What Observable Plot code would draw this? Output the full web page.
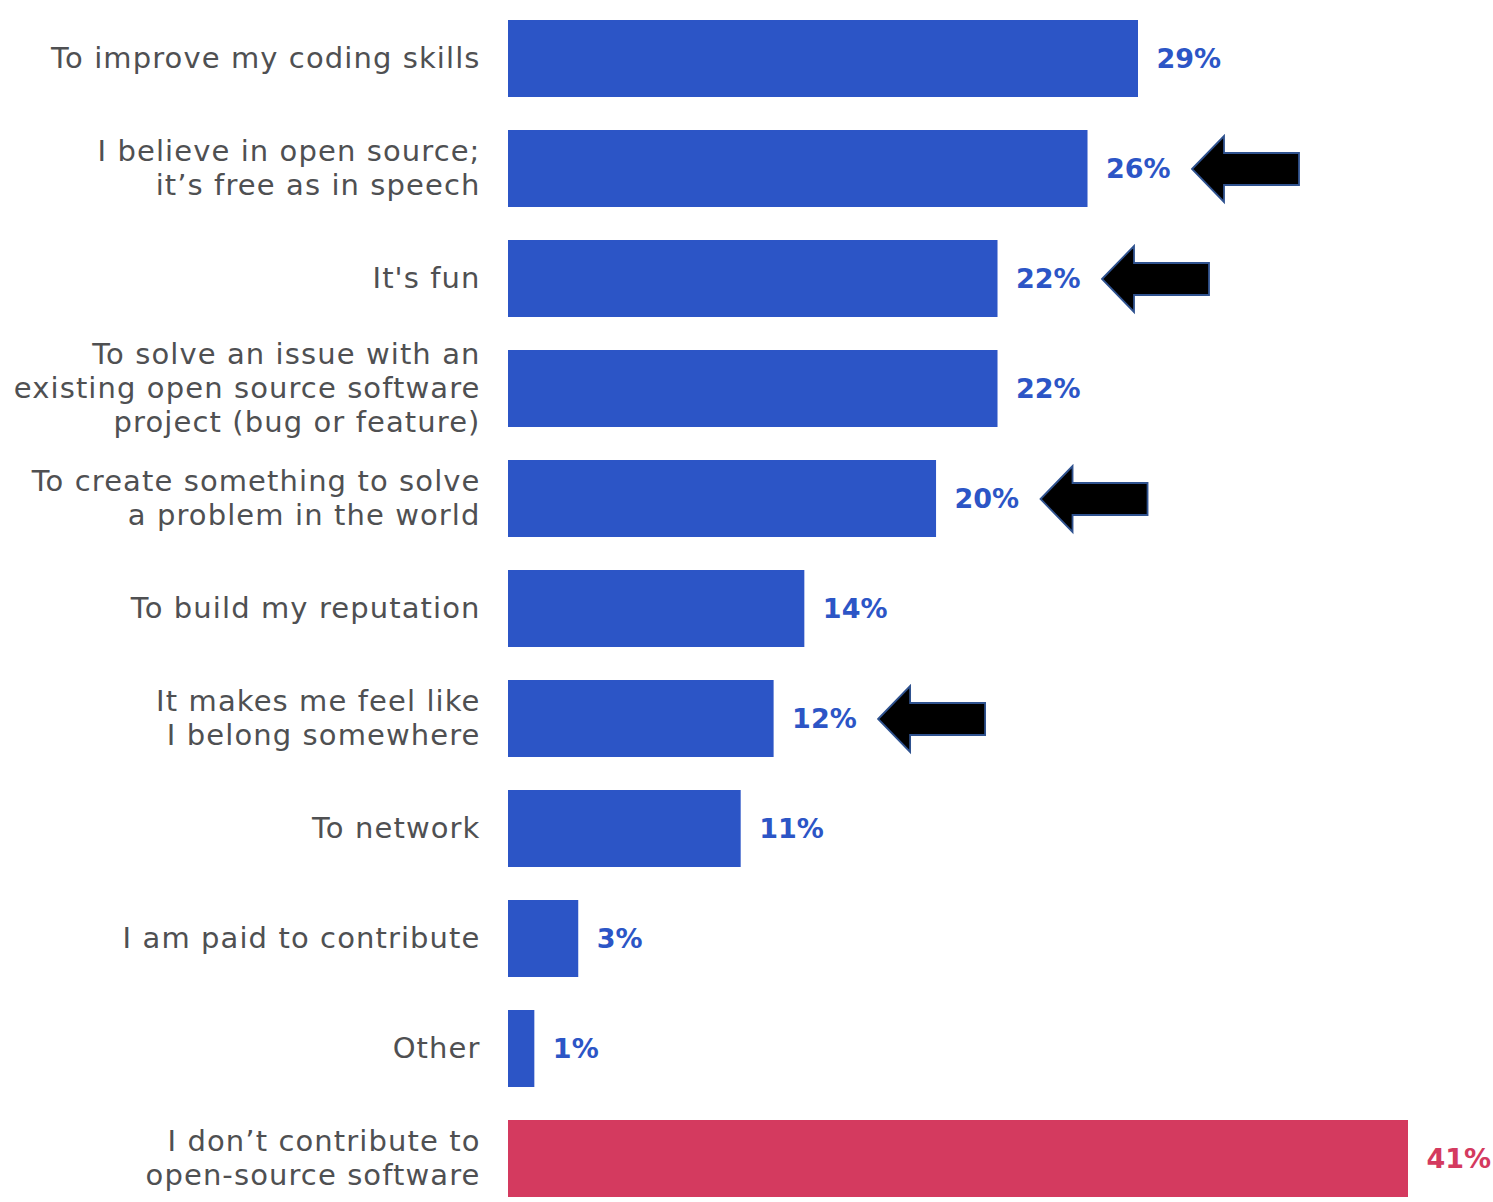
<!DOCTYPE html>
<html>
<head>
<meta charset="utf-8">
<script src="https://cdn.jsdelivr.net/npm/d3@7"></script>
<script src="https://cdn.jsdelivr.net/npm/@observablehq/plot@0.6"></script>
<style>
  html, body { margin: 0; padding: 0; background: #fff; }
  #chart svg { display: block; }
  #chart g[aria-label="y-axis tick label"] text { letter-spacing: 1.1px; }
</style>
</head>
<body>
<div id="chart"></div>
<script>
const categories = [
  "To improve my coding skills",
  "I believe in open source;\nit’s free as in speech",
  "It's fun",
  "To solve an issue with an\nexisting open source software\nproject (bug or feature)",
  "To create something to solve\na problem in the world",
  "To build my reputation",
  "It makes me feel like\nI belong somewhere",
  "To network",
  "I am paid to contribute",
  "Other",
  "I don’t contribute to\nopen-source software"
];
const values = [28.7, 26.4, 22.3, 22.3, 19.5, 13.5, 12.1, 10.6, 3.2, 1.2, 41.0];
const valueLabels = ["29%", "26%", "22%", "22%", "20%", "14%", "12%", "11%", "3%", "1%", "41%"];
const groups = ["contributor", "contributor", "contributor", "contributor", "contributor", "contributor", "contributor", "contributor", "contributor", "contributor", "non-contributor"];
const highlighted = [false, true, true, false, true, false, true, false, false, false, false];

const data = categories.map((c, i) => ({
  category: c, value: values[i], label: valueLabels[i], group: groups[i], highlight: highlighted[i]
}));

const arrowSymbol = {
  draw(context) {
    context.moveTo(0, 0);
    context.lineTo(32, -33);
    context.lineTo(32, -16);
    context.lineTo(107, -16);
    context.lineTo(107, 16);
    context.lineTo(32, 16);
    context.lineTo(32, 33);
    context.closePath();
  }
};

const chart = Plot.plot({
  width: 1493,
  height: 1202,
  marginLeft: 508,
  marginRight: 85,
  marginTop: 0,
  marginBottom: 0,
  style: { fontFamily: "'DejaVu Sans', sans-serif", background: "#fff" },
  x: { domain: [0, 41], axis: null },
  y: { domain: categories, paddingInner: 0.3, paddingOuter: 0.095, align: 0.81, label: null },
  color: { domain: ["contributor", "non-contributor"], range: ["#2c55c6", "#d43a5f"] },
  marks: [
    Plot.ruleX([0], { y1: 5, y2: 1200, stroke: "#d9d9d9", strokeWidth: 1.5 }),
    Plot.barX(data, { y: "category", x: "value", fill: "group" }),
    Plot.axisY({
      tickSize: 0, tickPadding: 28, fontSize: 29, lineHeight: 1.17, dy: -2,
      fill: "#4f5052", label: null
    }),
    Plot.text(data, {
      y: "category", x: "value", text: "label", fill: "group",
      textAnchor: "start", dx: 18, fontSize: 27, fontWeight: "bold"
    }),
    Plot.dot(data.filter(d => d.highlight), {
      y: "category", x: "value", dx: 104, symbol: arrowSymbol, r: 10,
      fill: "black", stroke: "#2f528f", strokeWidth: 1.8
    })
  ]
});
document.getElementById("chart").append(chart);
</script>
</body>
</html>
